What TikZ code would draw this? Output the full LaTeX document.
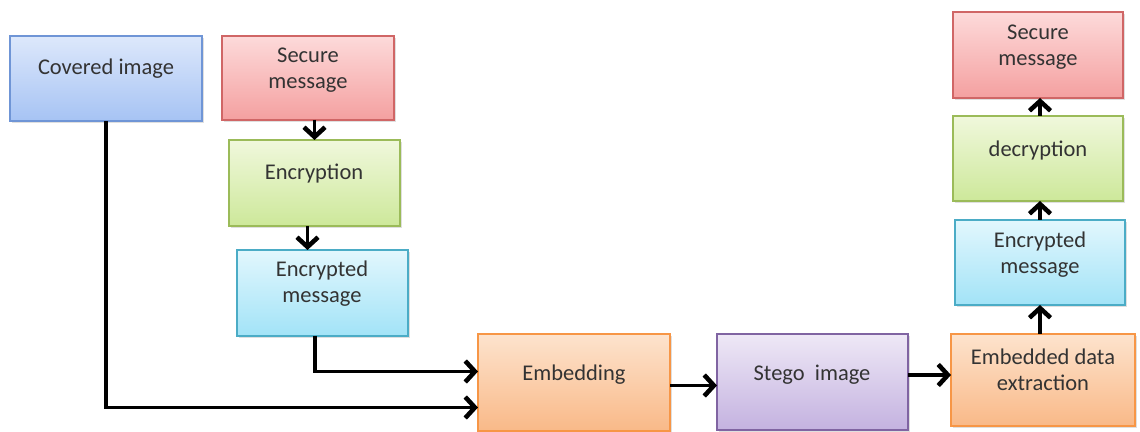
\documentclass[tikz,border=0pt]{standalone}
\usepackage{fontspec}
\setmainfont{Carlito}
\usetikzlibrary{arrows.meta,shadows,calc}
\definecolor{bTop}{HTML}{DDE8FB}\definecolor{bBot}{HTML}{A6C3F4}\definecolor{bLine}{HTML}{6F95D6}
\definecolor{rTop}{HTML}{FDDADA}\definecolor{rBot}{HTML}{F4A0A0}\definecolor{rLine}{HTML}{D06666}
\definecolor{gTop}{HTML}{F0F8DC}\definecolor{gBot}{HTML}{CDE89A}\definecolor{gLine}{HTML}{9BBB59}
\definecolor{cTop}{HTML}{E2F7FD}\definecolor{cBot}{HTML}{A2E3F7}\definecolor{cLine}{HTML}{4BACC6}
\definecolor{oTop}{HTML}{FDE3CD}\definecolor{oBot}{HTML}{F9B988}\definecolor{oLine}{HTML}{F79646}
\definecolor{pTop}{HTML}{EEE8F6}\definecolor{pBot}{HTML}{C4B2E0}\definecolor{pLine}{HTML}{8064A2}
\definecolor{txtc}{HTML}{333333}
\tikzset{
  box/.style={draw, line width=0.8pt, rectangle, inner sep=0pt, outer sep=0pt, anchor=north west,
    drop shadow={shadow xshift=1.2pt, shadow yshift=-1.2pt, opacity=0.25}},
  bluebox/.style={box, draw=bLine, top color=bTop, bottom color=bBot},
  redbox/.style={box, draw=rLine, top color=rTop, bottom color=rBot},
  greenbox/.style={box, draw=gLine, top color=gTop, bottom color=gBot},
  cyanbox/.style={box, draw=cLine, top color=cTop, bottom color=cBot},
  orangebox/.style={box, draw=oLine, top color=oTop, bottom color=oBot},
  purplebox/.style={box, draw=pLine, top color=pTop, bottom color=pBot},
  txt/.style={font=\fontsize{12.8}{14.7}\selectfont, text=txtc, align=center, inner sep=0pt},
  conn/.style={draw=black, line width=1.9pt, -{Straight Barb[length=5.5pt,width=12pt,line width=2.6pt]}}
}
\begin{document}
\begin{tikzpicture}[x=0.02cm,y=-0.02cm]
\useasboundingbox (0,0) rectangle (1140,432);
% boxes
\node[bluebox, minimum width=192*0.02cm, minimum height=85*0.02cm] (ci) at (10,36) {};
\node[redbox, minimum width=172*0.02cm, minimum height=84*0.02cm] (sm) at (222,36) {};
\node[greenbox, minimum width=171*0.02cm, minimum height=86*0.02cm] (enc) at (229,140) {};
\node[cyanbox, minimum width=171*0.02cm, minimum height=86*0.02cm] (em) at (237,250) {};
\node[orangebox, minimum width=192*0.02cm, minimum height=97*0.02cm] (emb) at (478,334) {};
\node[purplebox, minimum width=191*0.02cm, minimum height=96*0.02cm] (st) at (717,334) {};
\node[orangebox, minimum width=184*0.02cm, minimum height=92*0.02cm] (ext) at (951,334) {};
\node[cyanbox, minimum width=170*0.02cm, minimum height=85*0.02cm] (em2) at (955,220) {};
\node[greenbox, minimum width=170*0.02cm, minimum height=85*0.02cm] (dec) at (953,116) {};
\node[redbox, minimum width=170*0.02cm, minimum height=86*0.02cm] (sm2) at (953,12) {};
% texts
\node[txt] (tci) at (106,69) {Covered image};
\node[txt] (tsm) at (308,70) {Secure\\message};
\node[txt] (tenc) at (314,174) {Encryption};
\node[txt] (tem) at (322,284) {Encrypted\\message};
\node[txt] (temb) at (574,375) {Embedding};
\node[txt] (tst) at (812,375) {Stego\ \ image};
\node[txt] (text) at (1043,370) {Embedded data\\extraction};
\node[txt] (tem2) at (1040,255) {Encrypted\\message};
\node[txt] (tdec) at (1038,151) {decryption};
\node[txt] (tsm2) at (1038,47) {Secure\\message};
% connectors
\draw[conn] (ci.south) |- ([yshift=-0.5cm]emb.west);
\draw[conn] (enc.north |- sm.south) -- (enc.north);
\draw[conn] ([xshift=-0.14cm]enc.south) -- ([xshift=-0.14cm]enc.south |- em.north);
\draw[conn] ([xshift=-0.15cm]em.south) |- ([yshift=0.22cm]emb.west);
\draw[conn] ([yshift=-0.06cm]emb.east) -- ([yshift=-0.06cm]emb.east -| st.west);
\draw[conn] ([yshift=0.14cm]st.east) -- ([yshift=0.14cm]st.east -| ext.west);
\draw[conn] (em2.south |- ext.north) -- (em2.south);
\draw[conn] (em2.north) -- (em2.north |- dec.south);
\draw[conn] ([xshift=0.04cm]dec.north) -- ([xshift=0.04cm]dec.north |- sm2.south);
\end{tikzpicture}
\end{document}
